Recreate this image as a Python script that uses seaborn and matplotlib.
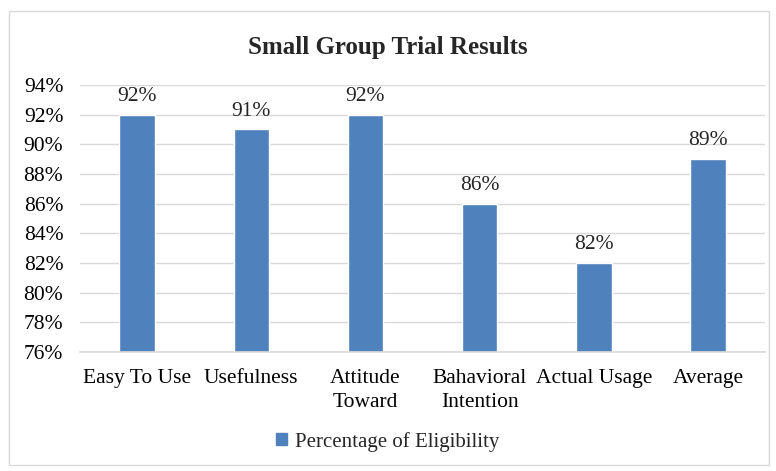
import matplotlib
matplotlib.use("Agg")
import matplotlib.pyplot as plt
import seaborn as sns
import pandas as pd
from matplotlib.patches import Rectangle, Patch

categories = ["Easy To Use", "Usefulness", "Attitude\nToward", "Bahavioral\nIntention", "Actual Usage", "Average"]
values = [92, 91, 92, 86, 82, 89]
series_name = "Percentage of Eligibility"
yticks = [76, 78, 80, 82, 84, 86, 88, 90, 92, 94]

sns.set_theme(style="white")
plt.rcParams['font.family'] = ['Liberation Serif', 'DejaVu Serif']

df = pd.DataFrame({"cat": categories, "val": values})
fig = plt.figure(figsize=(7.76, 4.71), dpi=100)
ax = fig.add_axes([0.103, 0.2527, 0.883, 0.567])
color = "#4F81BD"
sns.barplot(data=df, x="cat", y="val", color=color, width=0.31, ax=ax, saturation=1)
ax.set_ylim(76, 94)
ax.set_yticks(yticks)
ax.set_yticklabels([f"{t}%" for t in yticks], fontsize=15.5)
ax.set_xticklabels(categories, fontsize=15.5, linespacing=1.4)
ax.set_xlabel("")
ax.set_ylabel("")
ax.yaxis.grid(True, color="#D9D9D9", linewidth=1)
ax.set_axisbelow(True)
for s in ["left", "right", "top"]:
    ax.spines[s].set_visible(False)
ax.spines["bottom"].set_color("#D9D9D9")
ax.tick_params(axis="y", length=0, pad=12, colors="#000000")
ax.tick_params(axis="x", length=0, pad=12, colors="#000000")
for i, v in enumerate(values):
    ax.text(i, v + 0.6, f"{v}%", ha="center", va="bottom", fontsize=15.5)
fig.text(0.5, 0.9, "Small Group Trial Results", ha="center", va="center", fontsize=18, fontweight="bold")
fig.legend(handles=[Patch(color=color, label=series_name)], loc="center", bbox_to_anchor=(0.5, 0.062),
           frameon=False, fontsize=15, handlelength=0.5, handleheight=0.5, handletextpad=0.4)
fig.patches.append(Rectangle((0.011, 0.012), 0.98, 0.965, transform=fig.transFigure, fill=False,
                             edgecolor="#D9D9D9", linewidth=1))
fig.savefig("out.png", dpi=100)
